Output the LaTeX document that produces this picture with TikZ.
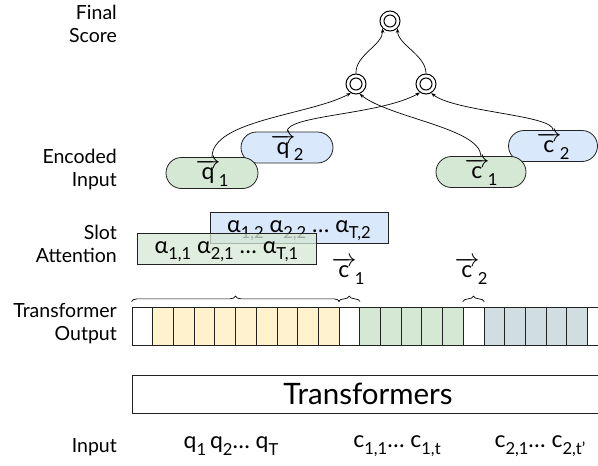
\documentclass[tikz,border=0pt]{standalone}
\usepackage{fontspec}
\setmainfont{Lato}
\usetikzlibrary{arrows.meta,decorations.pathreplacing}
\definecolor{gfill}{HTML}{D5E8D4}
\definecolor{bfill}{HTML}{DAE8FC}
\definecolor{yfill}{HTML}{FFF2CC}
\definecolor{sfill}{HTML}{D0DEE2}
\definecolor{edge}{HTML}{222222}
\newcommand{\mysub}[1]{\raisebox{-0.55ex}{\scalebox{0.72}{#1}}}
\newcommand{\myvec}[1]{\ensuremath{\overrightarrow{\mbox{#1}}}\kern-1.5pt}
\tikzset{
  lab/.style={anchor=east, align=right, font=\fontsize{19.5}{23}\selectfont, inner sep=0},
  pill/.style={draw=edge, line width=0.8pt, rounded corners=15.5pt, minimum width=92pt, minimum height=31pt, inner sep=0, font=\fontsize{23}{26}\selectfont},
  slotbox/.style={draw=edge, line width=0.8pt, minimum width=178pt, minimum height=31pt, inner sep=0, font=\fontsize{23}{24}\selectfont},
  cellbox/.style={draw=edge, line width=0.8pt, minimum width=20.7pt, minimum height=38pt, inner sep=0},
  dcirc/.style={circle, draw=black, line width=1pt, minimum size=20pt, inner sep=0},
  arr/.style={-{Stealth[length=4.5pt,width=3.5pt]}, line width=0.7pt},
  bracestyle/.style={decorate, decoration={brace, amplitude=5.5pt}, line width=0.7pt},
  big/.style={font=\fontsize{23}{26}\selectfont, inner sep=0},
}
\begin{document}
\begin{tikzpicture}[x=1pt,y=-1pt]
\useasboundingbox (0,0) rectangle (598,466);
% left labels
\node[lab] (lfinal) at (117,23.5) {Final\\Score};
\node[lab] (lenc) at (117,169) {Encoded\\Input};
\node[lab] (lslot) at (117,244) {Slot\\Attention};
\node[lab] (ltrans) at (117,324) {Transformer\\Output};
\node[lab] (linput) at (117,447) {Input};
% circles
\node[dcirc] (top) at (390,21) {};
\node[dcirc] (ml) at (356,84) {};
\node[dcirc] (mr) at (426,84) {};
\foreach \n in {top,ml,mr} \draw[line width=1pt] (\n.center) circle (6pt);
% pills
\node[pill, fill=bfill] (q2) at (287,147.5) {\myvec{q}\mysub{2}};
\node[pill, fill=gfill] (q1) at (212,173) {\myvec{q}\mysub{1}};
\node[pill, fill=bfill, minimum width=89pt] (c2) at (553,146) {\myvec{c}\mysub{2}};
\node[pill, fill=gfill, minimum width=90pt] (c1) at (481,172) {\myvec{c}\mysub{1}};
% arrows
\draw[arr] (ml.north) .. controls (355,55) and (383,45) .. (top.south west);
\draw[arr] (mr.north) .. controls (426,55) and (398,45) .. (top.south east);
\draw[arr] (q1.north) .. controls (212,120) and (310,115) .. (ml.240);
\draw[arr] (q2.north) .. controls (287,115) and (380,115) .. (mr.235);
\draw[arr] (c1.north) .. controls (480,128) and (390,118) .. (ml.290);
\draw[arr] (c2.north) .. controls (554,115) and (455,112) .. (mr.300);
% slot attention
\node[slotbox, fill=bfill] (s2) at (299,227.5) {$\mathstrut$α\mysub{1,2} α\mysub{2,2} … α\mysub{T,2}};
\node[slotbox, fill=gfill, fill opacity=0.75, text opacity=1, minimum width=179pt] (s1) at (226.5,248.5) {$\mathstrut$α\mysub{1,1} α\mysub{2,1} … α\mysub{T,1}};
% cells
\foreach \i/\c in {0/white,1/yfill,2/yfill,3/yfill,4/yfill,5/yfill,6/yfill,7/yfill,8/yfill,9/yfill,10/white,11/gfill,12/gfill,13/gfill,14/gfill,15/gfill,16/white,17/sfill,18/sfill,19/sfill,20/sfill,21/sfill,22/white}
  \node[cellbox, fill=\c] (cell\i) at ({142.35+20.7*\i},326) {};
% braces
\draw[bracestyle] ([yshift=5pt]cell0.north west) -- ([yshift=5pt]cell9.north east);
\draw[bracestyle] ([yshift=5pt]cell10.north west) -- ([yshift=5pt]cell10.north east);
\draw[bracestyle] ([yshift=5pt]cell16.north west) -- ([yshift=5pt]cell16.north east);
\node[big] (vc1) at (348,271) {\myvec{c}\mysub{1}};
\node[big] (vc2) at (471,271) {\myvec{c}\mysub{2}};
% transformers
\node[draw=edge, line width=0.8pt, minimum width=472pt, minimum height=38pt, inner sep=0, font=\fontsize{29.5}{31}\selectfont] (tf) at (368,394) {Transformers};
% input
\node[big] (inq) at (231,446) {q\mysub{1}\,q\mysub{2}… q\mysub{T}};
\node[big] (inc1) at (397,446) {c\mysub{1,1}… c\mysub{1,t}};
\node[big] (inc2) at (540,446) {c\mysub{2,1}… c\mysub{2,t'}};
\end{tikzpicture}
\end{document}
